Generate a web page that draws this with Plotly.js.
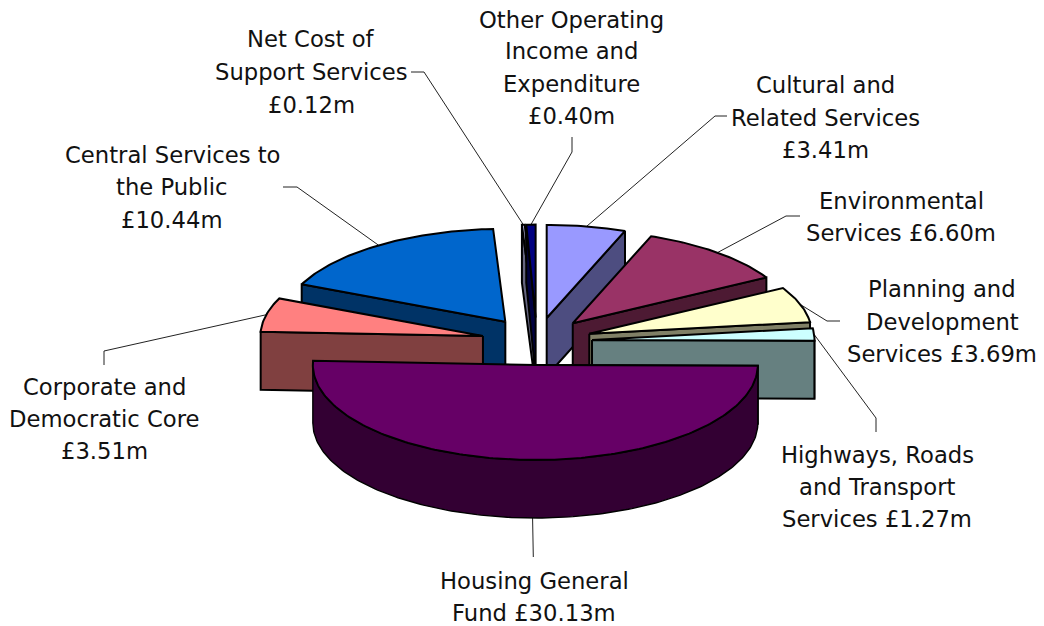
<!DOCTYPE html>
<html>
<head>
<meta charset="utf-8">
<script src="https://cdn.plot.ly/plotly-3.0.1.min.js"></script>
<style>html,body{margin:0;padding:0;background:#fff}#chart{width:1044px;height:626px}</style>
</head>
<body>
<div id="chart"></div>
<script>
// ---- data (clockwise from the first slice) ----
const categories = ["Other Operating Income and Expenditure","Cultural and Related Services","Environmental Services","Planning and Development Services","Highways, Roads and Transport Services","Housing General Fund","Corporate and Democratic Core","Central Services to the Public","Net Cost of Support Services"];
const values = [0.40,3.41,6.60,3.69,1.27,30.13,3.51,10.44,0.12];
const topColors = ["#000080","#9999FF","#993366","#FFFFCC","#CCFFFF","#660066","#FF8080","#0066CC","#CCCCFF"];
const sideColors = ["#000040","#4D4D80","#4D1A33","#808066","#668080","#330033","#804040","#003366","#666680"];
const labelLines = [
  ["Other Operating","Income and","Expenditure","£0.40m"],
  ["Cultural and","Related Services","£3.41m"],
  ["Environmental","Services £6.60m"],
  ["Planning and","Development","Services £3.69m"],
  ["Highways, Roads","and Transport","Services £1.27m"],
  ["Housing General","Fund £30.13m"],
  ["Corporate and","Democratic Core","£3.51m"],
  ["Central Services to","the Public","£10.44m"],
  ["Net Cost of","Support Services","£0.12m"]
];
// ---- layout of the labels and leader lines, in pixels ----
const labelX = [571,825,901,942,877,534,104,172,311];
const labelY = [[20,51,84,116],[85,118,150],[201,233],[289,322,354],[455,487,519],[581,613],[387,419,451],[155,187,220],[39,72,105]];
const elbowsX = [[572,572],[727,715],[800,786],[840,827],[876,876],[533.3],[104,104],[283,297],[411,424]];
const elbowsY = [[137,152],[116,116],[216,216],[321,321],[432,418],[557],[365,351],[187,187],[72,72]];
const leaderShift = [0,0,0,0,0,-0.8,0,0,0];
// ---- pie geometry ----
const CX = 536.8, CY = 341.3, RX = 222.5, RY_FRONT = 95, RY_BACK = 93, EX = 55.3, EY = 23.7, DEPTH = 58;
const OUTLINE = 2;

const total = values.reduce((a, b) => a + b, 0);
const START = -values[0] / total * 360; // the second slice starts straight up
const rad = d => d * Math.PI / 180;
const slices = [];
let acc = START;
values.forEach((v, i) => {
  const a0 = acc, a1 = acc + v / total * 360, mid = (a0 + a1) / 2;
  acc = a1;
  slices.push({i, a0, a1, mid, ax: CX + EX * Math.sin(rad(mid)), ay: CY - EY * Math.cos(rad(mid))});
});
const rim = (s, a, dz) => {
  const c = Math.cos(rad(a));
  return [s.ax + RX * Math.sin(rad(a)), s.ay - (c > 0 ? RY_BACK : RY_FRONT) * c + (dz || 0)];
};
function arc(s, a0, a1, dz) {
  const n = Math.max(2, Math.ceil(Math.abs(a1 - a0)));
  const pts = [];
  for (let k = 0; k <= n; k++) pts.push(rim(s, a0 + (a1 - a0) * k / n, dz));
  return pts;
}
const traces = [];
function poly(pts, fill, w) {
  const p = pts.concat([pts[0]]);
  traces.push({type: "scatter", mode: "lines", x: p.map(q => q[0]), y: p.map(q => q[1]),
    fill: "toself", fillcolor: fill, line: {color: "#000", width: w || OUTLINE}, hoverinfo: "skip", showlegend: false});
}
function radialFace(s, a, col) {
  const r = rim(s, a), b = rim(s, a, DEPTH);
  poly([[s.ax, s.ay], r, b, [s.ax, s.ay + DEPTH]], col);
}
function drawSlice(s) {
  const side = sideColors[s.i];
  if (s.mid < 180 && s.mid > 0) radialFace(s, s.a1, side);
  else radialFace(s, s.a0, side);
  // outer wall: the part of the rim that faces the viewer
  const w0 = Math.max(s.a0, 90), w1 = Math.min(s.a1, 270);
  if (w1 > w0) poly(arc(s, w0, w1).concat(arc(s, w1, w0, DEPTH)), side, 1.4);
  poly([[s.ax, s.ay]].concat(arc(s, s.a0, s.a1)), topColors[s.i]);
}
// leader lines, from the rim of each slice to the elbow near its label
slices.forEach(s => {
  const isFront = s.mid > 90 && s.mid < 270;
  const p = rim(s, s.mid + leaderShift[s.i], isFront ? DEPTH : 0);
  traces.push({type: "scatter", mode: "lines",
    x: elbowsX[s.i].concat([p[0]]), y: elbowsY[s.i].concat([p[1]]),
    line: {color: "#222", width: 1}, hoverinfo: "skip", showlegend: false});
});
// painter's order: back slices first, Housing last
[8, 0, 1, 2, 3, 4, 7, 6, 5].forEach(i => drawSlice(slices[i]));

const annotations = [];
labelLines.forEach((lines, i) => lines.forEach((t, j) => annotations.push({
  text: t, x: labelX[i], y: labelY[i][j], xref: "x", yref: "y", showarrow: false,
  xanchor: "center", yanchor: "middle", font: {family: "DejaVu Sans, sans-serif", size: 22.7, color: "#111"}
})));

const axis = {visible: false, fixedrange: true, showgrid: false, zeroline: false};
Plotly.newPlot("chart", traces, {
  width: 1044, height: 626, margin: {l: 0, r: 0, t: 0, b: 0},
  paper_bgcolor: "#fff", plot_bgcolor: "#fff", showlegend: false,
  xaxis: Object.assign({range: [0, 1044]}, axis),
  yaxis: Object.assign({range: [626, 0]}, axis),
  annotations
}, {staticPlot: true, displayModeBar: false});
</script>
</body>
</html>
